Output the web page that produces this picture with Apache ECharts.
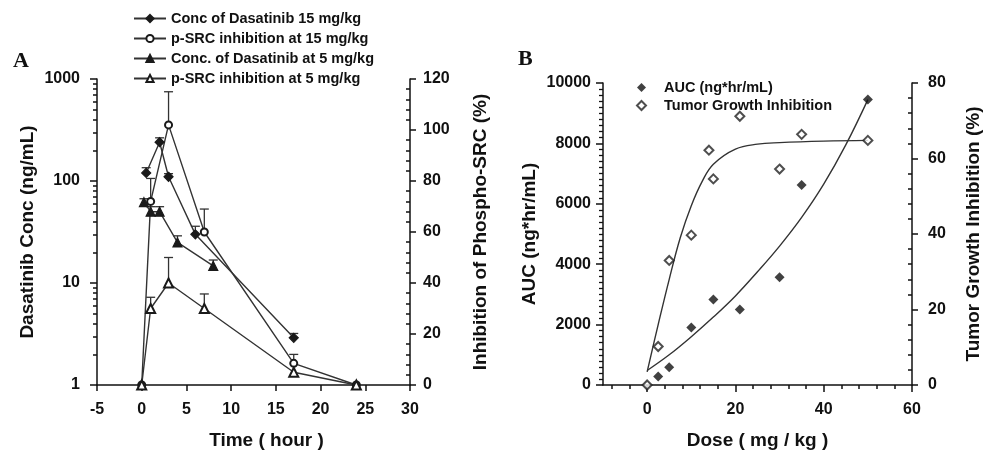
<!DOCTYPE html>
<html><head><meta charset="utf-8">
<script src="https://cdn.jsdelivr.net/npm/echarts@6/dist/echarts.min.js"></script>
<style>html,body{margin:0;padding:0;background:#fff}#c{width:984px;height:455px}</style>
</head><body><div id="c"></div>
<script>
// ---------- Panel A data ----------
const logMinorTicks = [2,3,4,5,6,7,8,9,20,30,40,50,60,70,80,90,200,300,400,500,600,700,800,900];
const conc15Time = [0.5, 2, 3, 6, 17];
const conc15Value = [120, 240, 110, 30, 2.9];
const conc15ErrTop = [135, 265, 118, 36, 3.2];
const psrc15Time = [0, 1, 3, 7, 17, 24];
const psrc15Value = [0, 72, 102, 60, 8.5, 0];
const psrc15ErrTop = [null, 81, 115, 69, 12, null];
const conc5Time = [0.25, 1, 2, 4, 8];
const conc5Value = [62, 50, 50, 25, 14.7];
const conc5ErrTop = [67, 56, 56, 29, 16.8];
const psrc5Time = [0, 1, 3, 7, 17, 24];
const psrc5Value = [0, 30, 40, 30, 5, 0];
const psrc5ErrTop = [null, 34.4, 50, 35.7, null, null];
const namesA = ['Conc of Dasatinib 15 mg/kg', 'p-SRC inhibition at 15 mg/kg', 'Conc. of Dasatinib at 5 mg/kg', 'p-SRC inhibition at 5 mg/kg'];
// ---------- Panel B data ----------
const doseAUC = [2.5, 5, 10, 15, 21, 30, 35, 50];
const aucValue = [280, 590, 1900, 2830, 2500, 3565, 6625, 9450];
const doseTGI = [0, 2.5, 5, 10, 14, 15, 21, 30, 35, 50];
const tgiValue = [0, 10.2, 33, 39.7, 62.2, 54.6, 71.2, 57.2, 66.4, 64.8];
const aucFitDose = [0, 5, 10, 15, 20, 25, 30, 35, 40, 45, 50];
const aucFitValue = [480, 1000, 1600, 2250, 2950, 3750, 4600, 5550, 6650, 7950, 9450];
const tgiFitDose = [0, 2.5, 5, 7.5, 10, 12.5, 15, 20, 25, 30, 40, 50];
const tgiFitValue = [3.5, 16, 28, 39, 47.5, 54, 58.5, 62.5, 63.8, 64.2, 64.6, 64.8];
const xMajorB = [0, 20, 40, 60];
const xMinorB = [-8, -4, 4, 8, 12, 16, 24, 28, 32, 36, 44, 48, 52, 56];
const namesB = ['AUC (ng*hr/mL)', 'Tumor Growth Inhibition'];

const FF = '"Liberation Sans", Arial, Helvetica, sans-serif';
const INK = '#111';
const LINE = '#333';
const zip = (a, b) => a.map((v, i) => [v, b[i]]);
const plain = v => String(v);

function errSeries(times, values, tops, xi, yi) {
  const data = [];
  times.forEach((t, i) => { if (tops[i] != null) data.push([t, values[i], tops[i]]); });
  return {
    type: 'custom', xAxisIndex: xi, yAxisIndex: yi, data, z: 1, silent: true,
    encode: { x: 0, y: [1, 2] },
    renderItem(params, api) {
      const p0 = api.coord([api.value(0), api.value(1)]);
      const p1 = api.coord([api.value(0), api.value(2)]);
      const hw = 4.5;
      const st = { stroke: LINE, lineWidth: 1.3 };
      return { type: 'group', children: [
        { type: 'line', shape: { x1: p0[0], y1: p0[1], x2: p1[0], y2: p1[1] }, style: st },
        { type: 'line', shape: { x1: p1[0] - hw, y1: p1[1], x2: p1[0] + hw, y2: p1[1] }, style: st }
      ] };
    }
  };
}

const axisLineS = { show: true, onZero: false, lineStyle: { color: INK, width: 1.5 } };
const noLine = { show: false, onZero: false };
const labelS = { color: INK, fontSize: 16, fontWeight: 'bold', fontFamily: FF, formatter: plain };
const nameS = { color: INK, fontSize: 19, fontWeight: 'bold', fontFamily: FF };
const tickS = (len, inside) => ({ show: true, length: len, inside: !!inside, lineStyle: { color: INK, width: 1.5 } });

function lineSeries(name, t, v, yi, symbol, size) {
  return {
    name, type: 'line', xAxisIndex: 0, yAxisIndex: yi, data: zip(t, v),
    symbol, symbolSize: size, showSymbol: true, z: 3,
    lineStyle: { color: LINE, width: 1.4 },
    itemStyle: { color: '#1a1a1a', borderColor: '#1a1a1a', borderWidth: 1.2 }
  };
}

const option = {
  backgroundColor: '#fff',
  animation: false,
  grid: [
    { left: 97, right: 574, top: 79, bottom: 67 },
    { left: 603, right: 71, top: 83, bottom: 67 }
  ],
  legend: [
    { data: namesA, orient: 'vertical', left: 128, top: 6, itemWidth: 32, itemHeight: 9, itemGap: 5,
      textStyle: { color: INK, fontSize: 14.5, fontWeight: 'bold', fontFamily: FF } },
    { data: namesB, orient: 'vertical', left: 631, top: 75, itemWidth: 9, itemHeight: 9, itemGap: 3,
      textStyle: { color: INK, fontSize: 14.5, fontWeight: 'bold', fontFamily: FF, padding: [0, 0, 0, 13] } }
  ],
  xAxis: [
    { gridIndex: 0, type: 'value', min: -5, max: 30, interval: 5, position: 'bottom',
      axisLine: axisLineS, axisTick: tickS(6), splitLine: { show: false },
      axisLabel: Object.assign({ margin: 17 }, labelS),
      name: 'Time ( hour )', nameLocation: 'middle', nameGap: 46,
      nameTextStyle: Object.assign({ padding: [0, 0, 0, 26] }, nameS) },
    { gridIndex: 1, type: 'value', min: -10, max: 60, position: 'bottom',
      axisLine: axisLineS, axisTick: Object.assign(tickS(7), { customValues: xMajorB }), splitLine: { show: false },
      axisLabel: Object.assign({ margin: 17, customValues: xMajorB }, labelS),
      name: 'Dose ( mg / kg )', nameLocation: 'middle', nameGap: 46, nameTextStyle: nameS },
    { gridIndex: 1, type: 'value', min: -10, max: 60, position: 'bottom',
      axisLine: noLine, axisTick: Object.assign(tickS(4), { customValues: xMinorB }),
      splitLine: { show: false }, axisLabel: { show: false } }
  ],
  yAxis: [
    { gridIndex: 0, type: 'log', logBase: 10, min: 1, max: 1000, position: 'left',
      axisLine: axisLineS, axisTick: tickS(7), splitLine: { show: false },
      axisLabel: Object.assign({ margin: 17 }, labelS),
      name: 'Dasatinib Conc (ng/mL)', nameLocation: 'middle', nameRotate: 90, nameGap: 60, nameTextStyle: nameS },
    { gridIndex: 0, type: 'log', logBase: 10, min: 1, max: 1000, position: 'left',
      axisLine: noLine, axisTick: Object.assign(tickS(4), { customValues: logMinorTicks }),
      splitLine: { show: false }, axisLabel: { show: false } },
    { gridIndex: 0, type: 'value', min: 0, max: 120, interval: 20, position: 'right',
      axisLine: axisLineS, axisTick: tickS(6), splitLine: { show: false },
      minorTick: { show: true, splitNumber: 5, length: -4, lineStyle: { color: INK, width: 1.5 } },
      axisLabel: Object.assign({ margin: 13 }, labelS),
      name: 'Inhibition of Phospho-SRC (%)', nameLocation: 'middle', nameRotate: 90, nameGap: 61, nameTextStyle: nameS },
    { gridIndex: 1, type: 'value', min: 0, max: 10000, interval: 2000, position: 'left',
      axisLine: axisLineS, axisTick: tickS(7), splitLine: { show: false },
      minorTick: { show: true, splitNumber: 10, length: 4, lineStyle: { color: INK, width: 1.3 } },
      axisLabel: Object.assign({ margin: 12 }, labelS),
      name: 'AUC (ng*hr/mL)', nameLocation: 'middle', nameRotate: 90, nameGap: 64, nameTextStyle: nameS },
    { gridIndex: 1, type: 'value', min: 0, max: 80, interval: 20, position: 'right',
      axisLine: axisLineS, axisTick: tickS(6), splitLine: { show: false },
      minorTick: { show: true, splitNumber: 5, length: -4, lineStyle: { color: INK, width: 1.5 } },
      axisLabel: Object.assign({ margin: 16 }, labelS),
      name: 'Tumor Growth Inhibition (%)', nameLocation: 'middle', nameRotate: 90, nameGap: 52, nameTextStyle: nameS }
  ],
  series: [
    errSeries(conc15Time, conc15Value, conc15ErrTop, 0, 0),
    errSeries(psrc15Time, psrc15Value, psrc15ErrTop, 0, 2),
    errSeries(conc5Time, conc5Value, conc5ErrTop, 0, 0),
    errSeries(psrc5Time, psrc5Value, psrc5ErrTop, 0, 2),
    lineSeries(namesA[0], conc15Time, conc15Value, 0, 'diamond', 9),
    lineSeries(namesA[1], psrc15Time, psrc15Value, 2, 'emptyCircle', 7),
    lineSeries(namesA[2], conc5Time, conc5Value, 0, 'triangle', 9),
    lineSeries(namesA[3], psrc5Time, psrc5Value, 2, 'emptyTriangle', 9),
    { name: 'aucFit', type: 'line', xAxisIndex: 1, yAxisIndex: 3, data: zip(aucFitDose, aucFitValue),
      smooth: 0.4, showSymbol: false, symbol: 'none', lineStyle: { color: LINE, width: 1.4 }, z: 2 },
    { name: 'tgiFit', type: 'line', xAxisIndex: 1, yAxisIndex: 4, data: zip(tgiFitDose, tgiFitValue),
      smooth: 0.4, showSymbol: false, symbol: 'none', lineStyle: { color: LINE, width: 1.4 }, z: 2 },
    { name: namesB[0], type: 'scatter', xAxisIndex: 1, yAxisIndex: 3, data: zip(doseAUC, aucValue),
      symbol: 'diamond', symbolSize: 10, itemStyle: { color: '#111' }, z: 4 },
    { name: namesB[1], type: 'scatter', xAxisIndex: 1, yAxisIndex: 4, data: zip(doseTGI, tgiValue),
      symbol: 'emptyDiamond', symbolSize: 9, itemStyle: { color: '#222', borderWidth: 1.2 }, z: 4 }
  ],
  graphic: [
    { type: 'text', left: 13, top: 50, style: { text: 'A', font: 'bold 22px "Liberation Serif", "Times New Roman", serif', fill: INK } },
    { type: 'text', left: 518, top: 48, style: { text: 'B', font: 'bold 22px "Liberation Serif", "Times New Roman", serif', fill: INK } }
  ]
};
const chart = echarts.init(document.getElementById('c'), null, { renderer: 'canvas' });
chart.setOption(option);
</script></body></html>
